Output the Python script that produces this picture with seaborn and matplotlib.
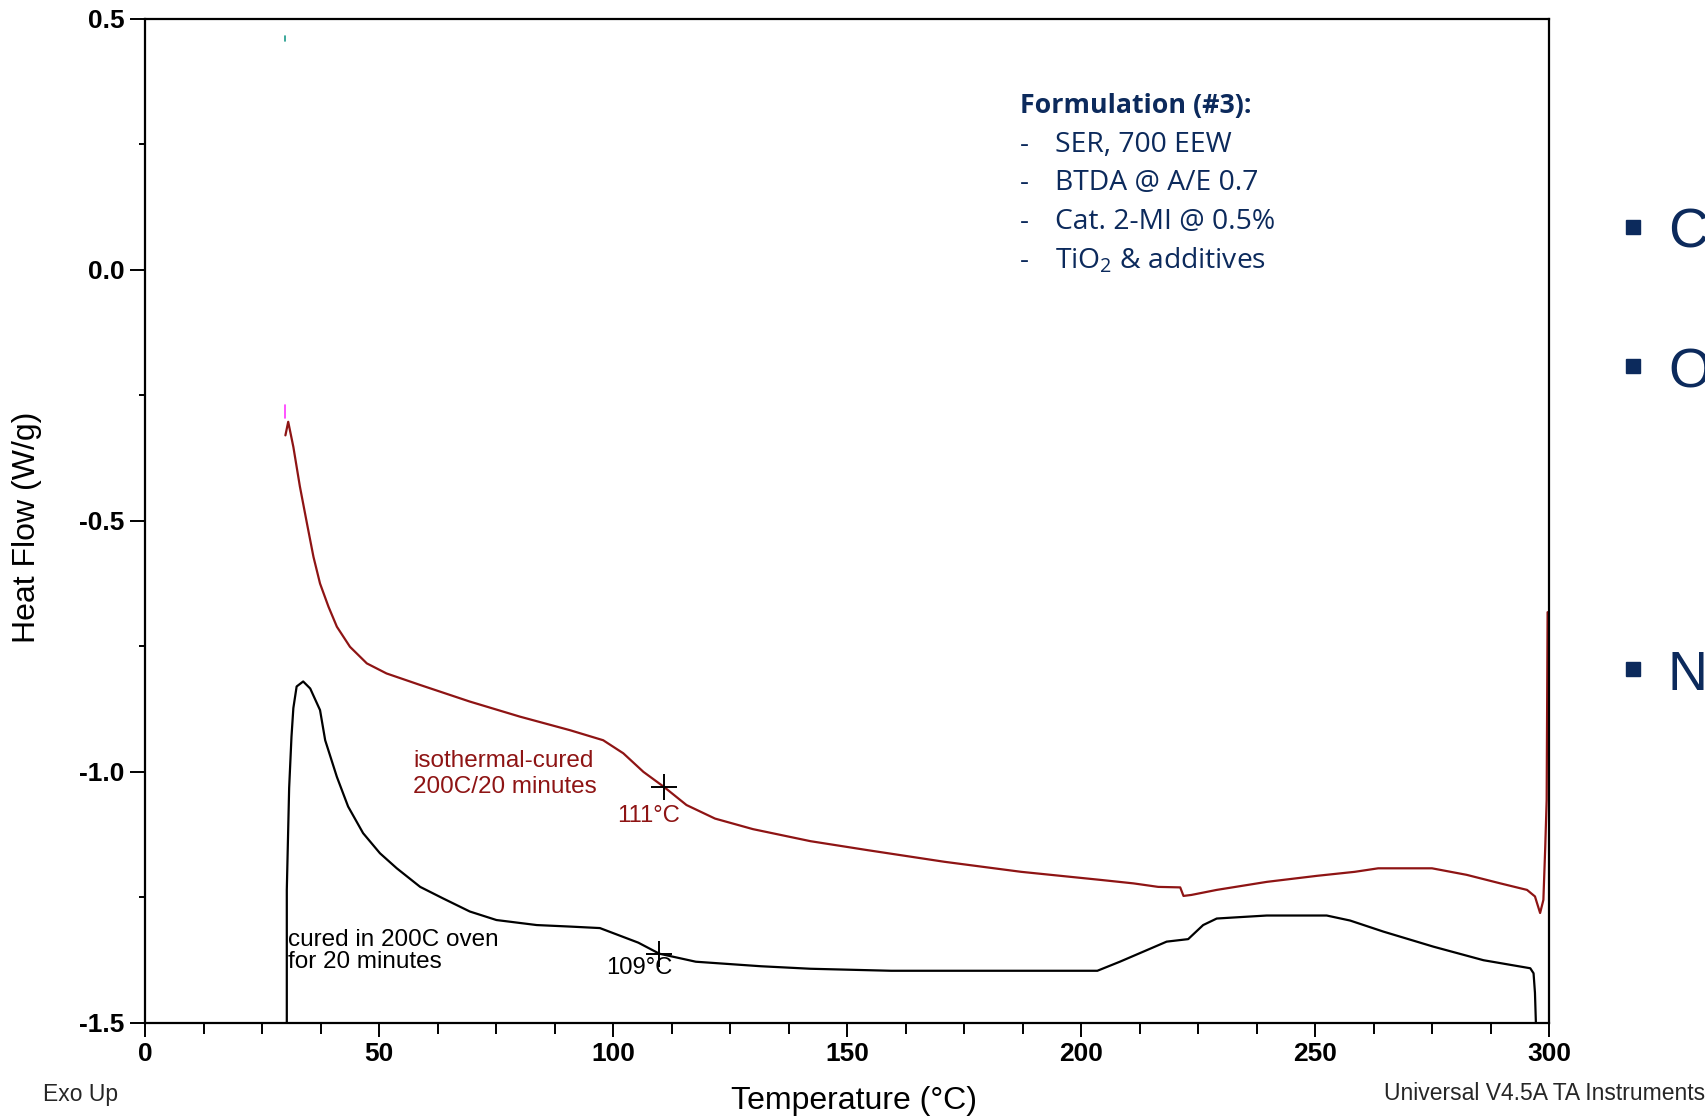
import matplotlib
matplotlib.use("Agg")
import matplotlib.pyplot as plt
import seaborn as sns
import pandas as pd
from matplotlib.ticker import MultipleLocator
from matplotlib.patches import Rectangle

# DSC traces (temperature in C, heat flow in W/g)
red_temp = [30.0, 30.6, 31.7, 33.1, 34.6, 36.0, 37.4, 39.2, 41.0, 43.8,
            47.4, 51.6, 58.8, 69.4, 80.1, 90.8, 97.9, 102.2, 106.5, 110.9,
            115.7, 121.8, 129.9, 142.2, 154.5, 170.8, 187.2, 204.1, 211.2, 216.5,
            221.2, 221.9, 223.6, 229.0, 239.7, 250.4, 258.5, 263.5, 275.0, 282.4,
            289.6, 295.3, 297.0, 298.1, 298.8, 299.2, 299.5, 299.7]
red_hf = [-0.33, -0.303, -0.353, -0.432, -0.505, -0.572, -0.625, -0.671, -0.711, -0.751,
          -0.784, -0.804, -0.827, -0.860, -0.890, -0.917, -0.937, -0.963, -1.000, -1.030,
          -1.066, -1.093, -1.114, -1.138, -1.156, -1.179, -1.199, -1.215, -1.222, -1.229,
          -1.230, -1.247, -1.245, -1.235, -1.219, -1.207, -1.199, -1.192, -1.192, -1.205,
          -1.222, -1.235, -1.248, -1.281, -1.255, -1.149, -1.056, -0.682]

black_temp = [30.3, 30.3, 30.8, 31.3, 31.7, 32.4, 33.8, 35.3, 37.4, 38.5,
              41.0, 43.4, 46.6, 50.2, 53.8, 58.8, 63.7, 69.4, 75.1, 83.7,
              90.8, 97.2, 105.4, 109.9, 117.7, 131.6, 142.2, 159.4, 203.5, 208.3,
              213.3, 218.3, 222.9, 226.1, 229.0, 232.5, 239.7, 252.5, 257.5, 264.6,
              275.3, 286.0, 296.0, 296.7, 297.0, 297.2]
black_hf = [-1.5, -1.235, -1.032, -0.930, -0.873, -0.830, -0.820, -0.834, -0.877, -0.937,
            -1.010, -1.069, -1.122, -1.162, -1.192, -1.229, -1.252, -1.278, -1.295, -1.305,
            -1.308, -1.311, -1.340, -1.362, -1.378, -1.387, -1.392, -1.396, -1.396, -1.378,
            -1.358, -1.338, -1.333, -1.305, -1.292, -1.290, -1.286, -1.286, -1.296, -1.318,
            -1.348, -1.375, -1.391, -1.401, -1.44, -1.5]

# Tg onset crosshairs
onset_temp = [110.9, 109.9]
onset_hf = [-1.030, -1.362]
onset_labels = ["111°C", "109°C"]

# little start markers drawn by the instrument software
marker_temp = [29.9, 29.9]
marker_hf = [(0.455, 0.466), (-0.295, -0.270)]

x_ticks = [0, 50, 100, 150, 200, 250, 300]
y_ticks = [0.5, 0.0, -0.5, -1.0, -1.5]
y_ticklabels = ["0.5", "0.0", "-0.5", "-1.0", "-1.5"]

formulation_lines = ["SER, 700 EEW", "BTDA @ A/E 0.7", "Cat. 2-MI @ 0.5%",
                     r"TiO$_\mathregular{2}$ & additives"]
side_letters = ["C", "O", "N"]

RED = "#8e1414"
NAVY = "#0c2a5c"
SLIDE_FONT = ["Open Sans", "DejaVu Sans"]

sns.set_theme(style="ticks")
plt.rcParams["font.family"] = ["Liberation Sans", "DejaVu Sans"]
plt.rcParams["axes.unicode_minus"] = False

fig = plt.figure(figsize=(17.06, 11.17), dpi=100)
W, H = 1706, 1117
ax = fig.add_axes([145 / W, 1 - 1023 / H, 1404 / W, 1004.5 / H])

red_df = pd.DataFrame({"temp": red_temp, "hf": red_hf})
black_df = pd.DataFrame({"temp": black_temp, "hf": black_hf})
sns.lineplot(data=red_df, x="temp", y="hf", sort=False, estimator=None,
             color=RED, lw=1.6, ax=ax)
sns.lineplot(data=black_df, x="temp", y="hf", sort=False, estimator=None,
             color="black", lw=1.6, ax=ax)

# instrument start markers
ax.plot([marker_temp[0]] * 2, marker_hf[0], color="#1a9a8a", lw=1.2)
ax.plot([marker_temp[1]] * 2, marker_hf[1], color="#ff33ff", lw=1.2)

# onset crosshairs + labels
ax.plot(onset_temp, onset_hf, ls="none", marker="+", ms=19, mew=1.4, color="black")
ax.text(107.6, -1.066, onset_labels[0], color=RED, fontsize=17.2, ha="center", va="top")
ax.text(105.7, -1.368, onset_labels[1], color="black", fontsize=17.2, ha="center", va="top")

ax.text(57.3, -0.957, "isothermal-cured\n200C/20 minutes", color=RED,
        fontsize=17.5, ha="left", va="top", linespacing=1.2)
ax.text(30.6, -1.312, "cured in 200C oven\nfor 20 minutes", color="black",
        fontsize=17.5, ha="left", va="top", linespacing=1.0)

ax.set_xlim(0, 300)
ax.set_ylim(-1.5, 0.5)
ax.set_xticks(x_ticks)
ax.set_yticks(y_ticks)
ax.set_yticklabels(y_ticklabels)
ax.xaxis.set_minor_locator(MultipleLocator(12.5))
ax.yaxis.set_minor_locator(MultipleLocator(0.25))
ax.tick_params(axis="both", which="major", labelsize=19, width=1.4, color="black",
               labelcolor="black")
ax.tick_params(axis="x", which="major", length=10, pad=4)
ax.tick_params(axis="x", which="minor", length=8, width=1.4, color="black")
ax.tick_params(axis="y", which="major", length=11, pad=4)
ax.tick_params(axis="y", which="minor", length=4, width=1.4, color="black")
for lbl in ax.get_xticklabels() + ax.get_yticklabels():
    lbl.set_fontweight("bold")
for side in ["left", "right", "top", "bottom"]:
    ax.spines[side].set_visible(True)
    ax.spines[side].set_color("black")
    ax.spines[side].set_linewidth(1.6)

ax.set_xlabel("Temperature (°C)", fontsize=23, color="black", va="center")
ax.xaxis.set_label_coords(0.505, -0.078)
ax.set_ylabel("Heat Flow (W/g)", fontsize=23, color="black", va="center")
ax.yaxis.set_label_coords(-0.084, 0.493)

fig.text(43 / W, 1 - 1094 / H, "Exo Up", fontsize=16.5, ha="left", va="center")
fig.text(1705 / W, 1 - 1094 / H, "Universal V4.5A TA Instruments", fontsize=16.5,
         ha="right", va="center")

# formulation text
fig.text(1020 / W, 1 - 106 / H, "Formulation (#3):", fontsize=19.3, fontweight="bold",
         color=NAVY, family=SLIDE_FONT, ha="left", va="center")
for i, line in enumerate(formulation_lines):
    yy = 1 - (145 + 38.5 * i) / H
    fig.text(1020 / W, yy, "-", fontsize=20, color=NAVY, family=SLIDE_FONT,
             ha="left", va="center")
    fig.text(1055 / W, yy, line, fontsize=20.3, color=NAVY, family=SLIDE_FONT,
             ha="left", va="center")

# bullets of the slide text, cut off by the right edge
for letter, ysq, ytx in zip(side_letters, [227, 366, 669], [234, 373, 676]):
    fig.patches.append(Rectangle((1626 / W, 1 - (ysq + 7) / H), 14 / W, 14 / H,
                                 transform=fig.transFigure, color=NAVY))
    fig.text(1668 / W, 1 - ytx / H, letter, fontsize=40, color=NAVY,
             ha="left", va="center")

fig.savefig("out.png", dpi=100, facecolor="white")
